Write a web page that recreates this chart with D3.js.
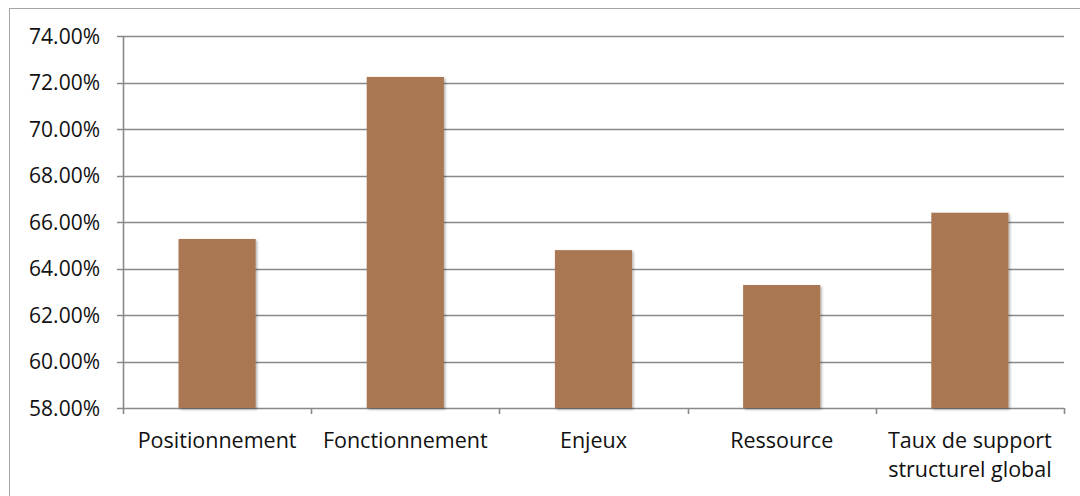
<!DOCTYPE html>
<html>
<head>
<meta charset="utf-8">
<script src="https://cdn.jsdelivr.net/npm/d3@7"></script>
<style>
  html, body { margin: 0; padding: 0; background: #ffffff; }
  svg { display: block; }
</style>
</head>
<body>
<div id="chart"></div>
<script>
// Taux de support par dimension
const categories = ["Positionnement", "Fonctionnement", "Enjeux", "Ressource", "Taux de support\nstructurel global"];
const values = [65.27, 72.24, 64.79, 63.29, 66.40];
const yTicks = [58, 60, 62, 64, 66, 68, 70, 72, 74];

const W = 1080, H = 496;
const plot = { left: 123, right: 1064, top: 36, bottom: 408 };
const gridColor = "#898989";
const barColor = "#aa7753";
const labelFont = "'Open Sans', Lato, sans-serif";

const svg = d3.select("#chart").append("svg")
  .attr("width", W).attr("height", H);

const defs = svg.append("defs");
const shadow = defs.append("filter").attr("id", "barShadow")
  .attr("x", "-10%").attr("y", "-10%").attr("width", "130%").attr("height", "130%");
shadow.append("feDropShadow")
  .attr("dx", 1.5).attr("dy", 1.5).attr("stdDeviation", 1.2)
  .attr("flood-color", "#000").attr("flood-opacity", 0.3);

// Chart frame
svg.append("rect")
  .attr("x", 9.5).attr("y", 8.5).attr("width", W + 20).attr("height", H + 20)
  .attr("fill", "none").attr("stroke", "#a6a6a6").attr("stroke-width", 1);

const x = d3.scaleBand()
  .domain(categories)
  .range([plot.left, plot.right])
  .paddingInner(0.59)
  .paddingOuter(0.295);

const y = d3.scaleLinear()
  .domain([58, 74])
  .range([plot.bottom, plot.top]);

// Horizontal gridlines (the 58% line doubles as the category axis)
svg.append("g").selectAll("line")
  .data(yTicks)
  .join("line")
  .attr("x1", plot.left - 6).attr("x2", plot.right)
  .attr("y1", d => Math.round(y(d)) + 0.5).attr("y2", d => Math.round(y(d)) + 0.5)
  .attr("stroke", gridColor).attr("stroke-width", 1.6);

// Value axis line
svg.append("line")
  .attr("x1", plot.left + 0.5).attr("x2", plot.left + 0.5)
  .attr("y1", y(74)).attr("y2", y(58) + 6)
  .attr("stroke", gridColor).attr("stroke-width", 1.6);

// Category boundary ticks
const step = x.step();
const boundaries = d3.range(categories.length + 1).map(i => plot.left + i * step);
svg.append("g").selectAll("line")
  .data(boundaries.slice(1))
  .join("line")
  .attr("x1", d => Math.round(d) + 0.5).attr("x2", d => Math.round(d) + 0.5)
  .attr("y1", y(58)).attr("y2", y(58) + 6)
  .attr("stroke", gridColor).attr("stroke-width", 1.6);

// Bars
svg.append("g").selectAll("rect")
  .data(categories.map((c, i) => ({ c, v: values[i] })))
  .join("rect")
  .attr("x", d => x(d.c))
  .attr("width", x.bandwidth())
  .attr("y", d => y(d.v))
  .attr("height", d => y(58) - y(d.v))
  .attr("fill", barColor)
  .attr("filter", "url(#barShadow)");

// Y tick labels
svg.append("g").selectAll("text")
  .data(yTicks)
  .join("text")
  .attr("x", 100)
  .attr("y", d => y(d))
  .attr("dy", "0.36em")
  .attr("text-anchor", "end")
  .attr("font-family", labelFont)
  .attr("font-size", 21)
  .attr("fill", "#111")
  .text(d => d.toFixed(2) + "%");

// Category labels
const xl = svg.append("g").selectAll("text")
  .data(categories)
  .join("text")
  .attr("x", d => x(d) + x.bandwidth() / 2)
  .attr("y", 448)
  .attr("text-anchor", "middle")
  .attr("font-family", labelFont)
  .attr("font-size", 21.5)
  .attr("fill", "#111");
xl.selectAll("tspan")
  .data(d => d.split("\n"))
  .join("tspan")
  .attr("x", function () { return d3.select(this.parentNode).attr("x"); })
  .attr("dy", (d, i) => i === 0 ? 0 : 29)
  .text(d => d);
</script>
</body>
</html>
